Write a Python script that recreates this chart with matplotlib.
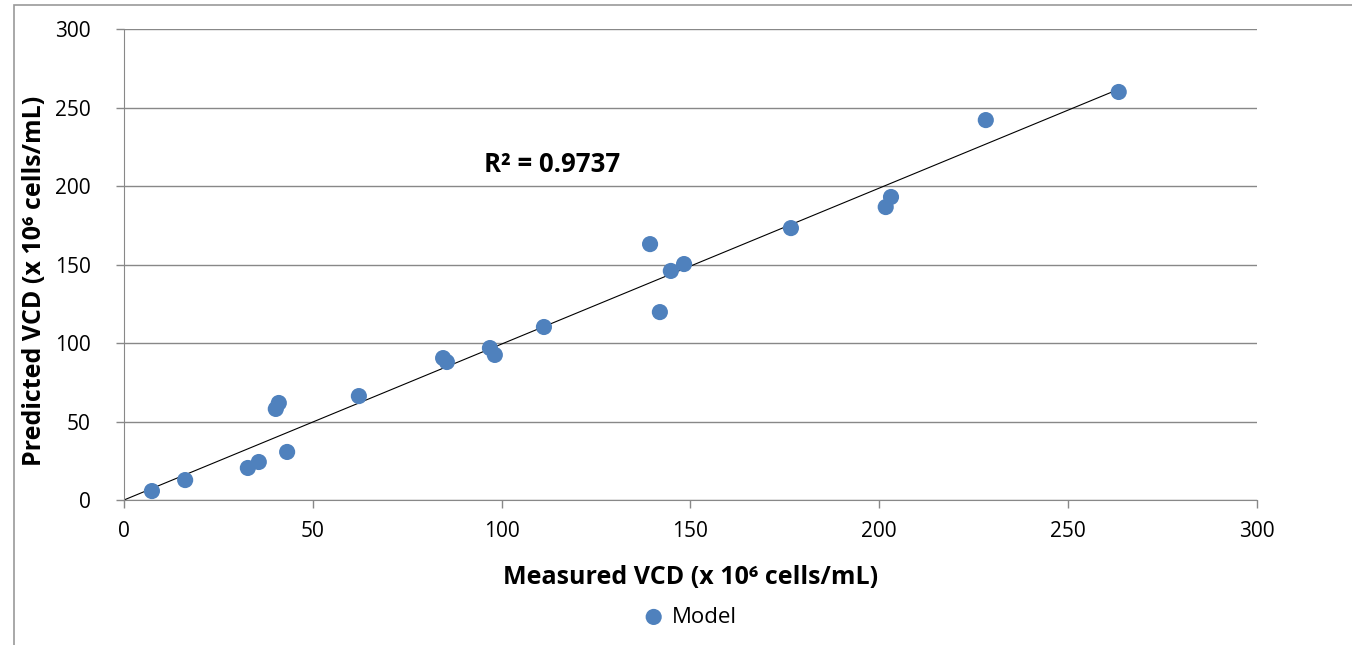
import numpy as np
import matplotlib.pyplot as plt
from matplotlib.patches import Rectangle

# Measured vs predicted viable cell density (x 10^6 cells/mL)
measured = [7.4, 16.2, 32.8, 35.7, 40.2, 41.0, 43.2, 62.2, 84.5, 85.5,
            96.9, 98.2, 111.2, 139.3, 141.9, 144.8, 148.3, 176.6, 201.7,
            203.1, 228.2, 263.4]
predicted = [5.7, 12.7, 20.4, 24.2, 58.0, 61.8, 30.6, 66.2, 90.4, 87.9,
             96.8, 92.4, 110.2, 163.0, 119.7, 145.9, 150.3, 173.2, 186.6,
             193.0, 242.0, 259.9]
r2_label = "R\u00b2 = 0.9737"
ticks = [0, 50, 100, 150, 200, 250, 300]

plt.rcParams['font.family'] = ['Open Sans', 'DejaVu Sans']

fig = plt.figure(figsize=(13.52, 6.45), dpi=100)
ax = fig.add_axes([0.0917, 0.2248, 0.838, 0.7302])

x = np.array(measured)
y = np.array(predicted)

# linear trendline through the origin
slope = np.sum(x * y) / np.sum(x * x)
xs = np.array([0, x.max()])
ax.plot(xs, slope * xs, color='black', lw=0.8, zorder=2)

ax.scatter(x, y, s=135, color='#4F81BD', edgecolors='none', zorder=3, label='Model')

ax.set_xlim(0, 300)
ax.set_ylim(0, 300)
ax.set_xticks(ticks)
ax.set_yticks(ticks)
ax.tick_params(labelsize=15, color='#888888', length=6, width=1)
ax.tick_params(axis='y', pad=18)
ax.tick_params(axis='x', pad=9)
ax.grid(axis='y', color='#888888', lw=1, zorder=0)
ax.set_axisbelow(True)
for s in ['top', 'right']:
    ax.spines[s].set_visible(False)
for s in ['left', 'bottom']:
    ax.spines[s].set_color('#888888')

ax.set_xlabel('Measured VCD (x 10\u2076 cells/mL)', fontsize=18, fontweight='bold', labelpad=17)
ax.set_ylabel('Predicted VCD (x 10\u2076 cells/mL)', fontsize=18, fontweight='bold')
ax.yaxis.set_label_coords(-0.068, 0.465)

ax.text(95.3, 214, r2_label, fontsize=18.5, fontweight='bold', va='center', ha='left')

fig.legend(loc='center', bbox_to_anchor=(0.51, 0.043), frameon=False, fontsize=16,
           handlelength=1.0, handletextpad=0.3, markerscale=1.0)

# chart area border
fig.patches.append(Rectangle((14 / 1352, -0.05), 1.2, 1 - 5 / 645 + 0.05,
                             transform=fig.transFigure, fill=False,
                             edgecolor='#999999', lw=1.2))

fig.savefig('out.png', dpi=100)
